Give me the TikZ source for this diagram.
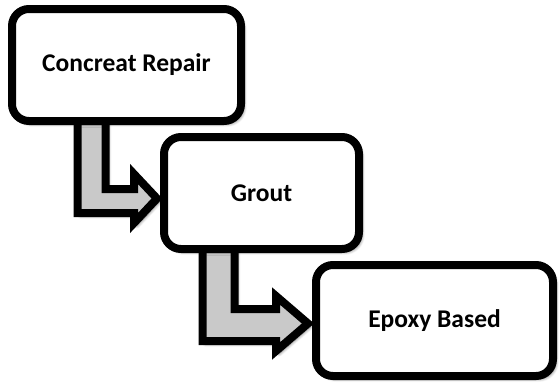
\documentclass[tikz,border=0pt]{standalone}
\usepackage{fontspec}
\setmainfont{Carlito}
\usetikzlibrary{shadows.blur}
\definecolor{arrowgray}{RGB}{201,201,201}
\tikzset{
  mybox/.style={draw=black, line width=8pt, fill=white, rounded corners=17pt,
    font=\fontsize{25.5}{30}\selectfont\bfseries, align=center, inner sep=0pt,
    blur shadow={shadow xshift=3pt, shadow yshift=-3pt, shadow blur radius=3pt, shadow blur steps=6, shadow opacity=55}},
  bentarrow/.style={draw=black, line width=8pt, fill=arrowgray, line join=miter, miter limit=10,
    blur shadow={shadow xshift=3pt, shadow yshift=-3pt, shadow blur radius=3pt, shadow blur steps=6, shadow opacity=55}}
}
\begin{document}
\begin{tikzpicture}[x=1pt,y=-1pt]
\useasboundingbox (0,0) rectangle (560,386);
% arrows (behind boxes)
\draw[bentarrow] (77.5,112) -- (77.5,213) -- (134,213) -- (134,223) -- (157,198.5) -- (134,174) -- (134,189) -- (105.5,189) -- (105.5,112) -- cycle;
\draw[bentarrow] (202.5,238) -- (202.5,341) -- (276,341) -- (276,351) -- (308,323.5) -- (276,296) -- (276,309) -- (234.5,309) -- (234.5,238) -- cycle;
% boxes
\node[mybox, minimum width=229pt, minimum height=112pt] (b1) at (126.5,65) {Concreat Repair};
\node[mybox, minimum width=195pt, minimum height=112pt] (b2) at (261.5,193) {Grout};
\node[mybox, minimum width=237pt, minimum height=111pt] (b3) at (434.5,320.5) {Epoxy Based};
\end{tikzpicture}
\end{document}
